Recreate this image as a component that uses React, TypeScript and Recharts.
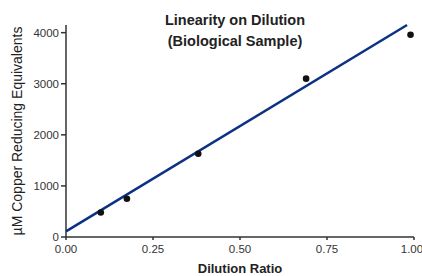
import { ScatterChart, Scatter, XAxis, YAxis, Label } from 'recharts';

// measured points (dilution ratio vs µM copper reducing equivalents)
const dilution = [0.1, 0.175, 0.38, 0.69, 0.99];
const copper = [480, 750, 1630, 3100, 3960];

// linear fit drawn across the data
const fitX = [0, 0.98];
const fitY = [110, 4150];

const xTicks = [0, 0.25, 0.5, 0.75, 1];
const yTicks = [0, 1000, 2000, 3000, 4000];

const points = dilution.map((x, i) => ({ x, y: copper[i] }));
const fitLine = fitX.map((x, i) => ({ x, y: fitY[i] }));

const tickStyle = { fontSize: 11.5, fill: '#333', fontFamily: 'Liberation Sans, Arial, sans-serif' };

const Dot = (props: any) => <circle cx={props.cx} cy={props.cy} r={3.3} fill="#111" />;

const App = () => {
  return (
    <div style={{ position: 'absolute', left: 0, top: 0, width: 422, height: 276, background: '#fff', fontFamily: 'Liberation Sans, Arial, sans-serif' }}>
      <div style={{ position: 'absolute', left: 135, width: 200, top: 10, textAlign: 'center', fontWeight: 'bold', fontSize: 14.5, lineHeight: '21px', color: '#222', zIndex: 2 }}>
        Linearity on Dilution<br />(Biological Sample)
      </div>
      <ScatterChart width={422} height={276} margin={{ top: 25, right: 8, left: 0, bottom: 0 }}>
        <XAxis
          type="number"
          dataKey="x"
          domain={[0, 1]}
          ticks={xTicks}
          tickFormatter={(v: number) => v.toFixed(2)}
          tick={tickStyle}
          tickSize={3}
          tickMargin={5}
          height={39}
          stroke="#333"
          strokeWidth={1.5}
        >
          <Label value="Dilution Ratio" position="insideBottom" offset={3} style={{ fontSize: 13, fontWeight: 'bold', fill: '#222' }} />
        </XAxis>
        <YAxis
          type="number"
          dataKey="y"
          domain={[0, 4080]}
          ticks={yTicks}
          tick={tickStyle}
          tickSize={5}
          tickMargin={2}
          width={66}
          stroke="#333"
          strokeWidth={1.5}
        >
          <Label value="µM Copper Reducing Equivalents" angle={-90} position="insideLeft" offset={17} style={{ fontSize: 14, fill: '#222', textAnchor: 'middle' }} />
        </YAxis>
        <Scatter
          data={fitLine}
          line={{ stroke: '#0b3184', strokeWidth: 2.5 }}
          shape={() => <g />}
          isAnimationActive={false}
        />
        <Scatter data={points} shape={Dot} isAnimationActive={false} />
      </ScatterChart>
    </div>
  );
};

export default App;
